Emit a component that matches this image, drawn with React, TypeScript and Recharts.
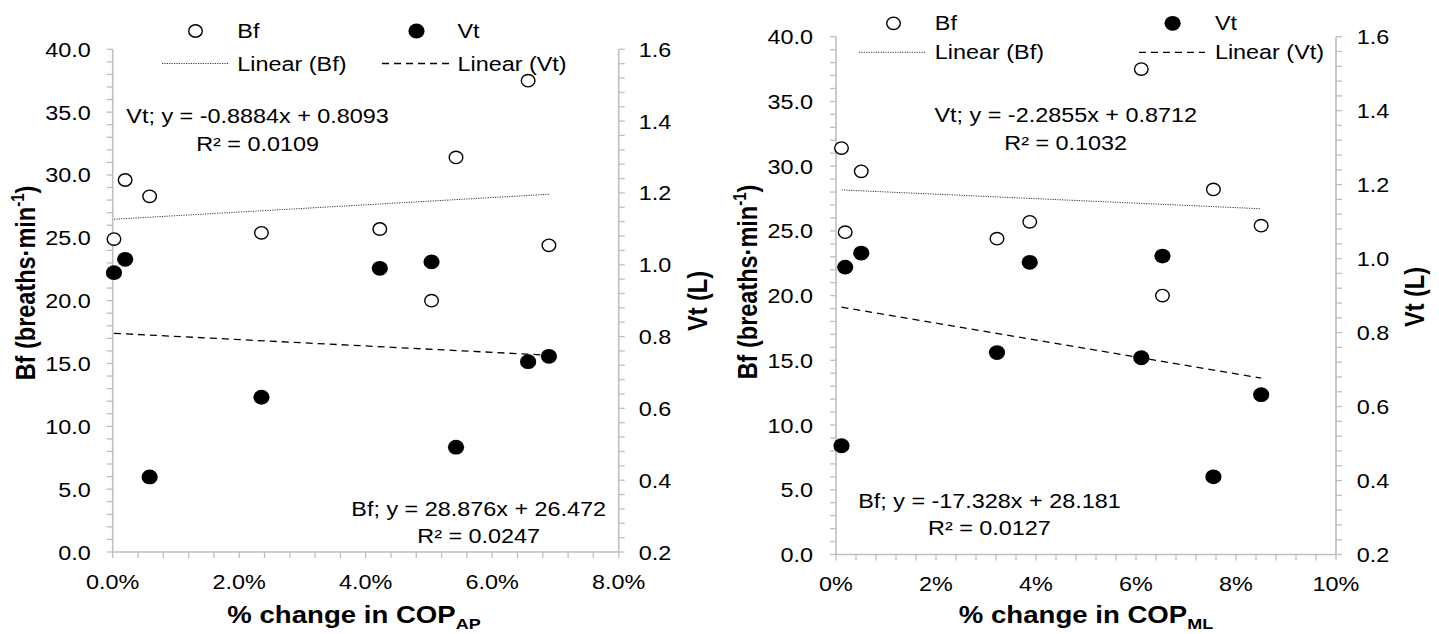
import React from 'react';
import { ScatterChart, Scatter, XAxis, YAxis, ReferenceLine } from 'recharts';

const FONT = '"Liberation Sans", Arial, Helvetica, sans-serif';
const SX = 1.2;
const AXIS = '#bfbfbf';

// ---- data: panel A (% change in COP AP) ----
const apX = [0.0002, 0.00197, 0.00584, 0.02352, 0.04223, 0.05041, 0.05428, 0.06568, 0.06897];
const apBf = [24.9, 29.6, 28.3, 25.4, 25.7, 20.0, 31.4, 37.5, 24.4];
const apVt = [0.978, 1.015, 0.409, 0.631, 0.99, 1.008, 0.492, 0.73, 0.745];
const apBfFit = [28.876, 26.472];
const apVtFit = [-0.8884, 0.8093];
const apBfEq = ['Bf; y = 28.876x + 26.472', 'R² = 0.0247'];
const apVtEq = ['Vt; y = -0.8884x + 0.8093', 'R² = 0.0109'];

// ---- data: panel B (% change in COP ML) ----
const mlX = [0.0011, 0.00184, 0.00505, 0.0322, 0.03875, 0.06106, 0.06529, 0.07548, 0.08503];
const mlBf = [31.4, 24.9, 29.6, 24.4, 25.7, 37.5, 20.0, 28.2, 25.4];
const mlVt = [0.494, 0.977, 1.015, 0.746, 0.99, 0.732, 1.007, 0.41, 0.632];
const mlBfFit = [-17.328, 28.181];
const mlVtFit = [-2.2855, 0.8712];
const mlBfEq = ['Bf; y = -17.328x + 28.181', 'R² = 0.0127'];
const mlVtEq = ['Vt; y = -2.2855x + 0.8712', 'R² = 0.1032'];

// ---- ticks ----
const bfMajor = [0, 5, 10, 15, 20, 25, 30, 35, 40];
const bfLabels = ['0.0', '5.0', '10.0', '15.0', '20.0', '25.0', '30.0', '35.0', '40.0'];
const vtMajor = [0.2, 0.4, 0.6, 0.8, 1.0, 1.2, 1.4, 1.6];
const vtLabels = ['0.2', '0.4', '0.6', '0.8', '1.0', '1.2', '1.4', '1.6'];
const apXMajor = [0, 0.02, 0.04, 0.06, 0.08];
const apXLabels = ['0.0%', '2.0%', '4.0%', '6.0%', '8.0%'];
const mlXMajor = [0, 0.02, 0.04, 0.06, 0.08, 0.1];
const mlXLabels = ['0%', '2%', '4%', '6%', '8%', '10%'];

const seriesNames = ['Bf', 'Vt'];
const trendNames = ['Linear (Bf)', 'Linear (Vt)'];

function withMinor(majors: number[]) {
  const out: number[] = [];
  for (let i = 0; i < majors.length - 1; i++) {
    for (let k = 0; k < 5; k++) out.push(Number((majors[i] + ((majors[i + 1] - majors[i]) * k) / 5).toFixed(6)));
  }
  out.push(majors[majors.length - 1]);
  return out;
}

function SText(props: any) {
  const { x, y, children, anchor = 'start', size = 19.5, weight = 'normal', rotate = 0, dy = 0 } = props;
  const tf = rotate
    ? `translate(${x},${y}) rotate(${rotate}) scale(1,${SX})`
    : `translate(${x},${y}) scale(${SX},1)`;
  return (
    <text transform={tf} y={dy} textAnchor={anchor} fontSize={size} fontWeight={weight} fontFamily={FONT} fill="#000">
      {children}
    </text>
  );
}

function makeYTick(majors: number[], labels: string[], anchor: string) {
  return (props: any) => {
    const { x, y, payload } = props;
    const i = majors.findIndex((m) => Math.abs(m - payload.value) < 1e-6);
    if (i < 0) return <g />;
    return <SText x={x} y={y + 7.5} anchor={anchor}>{labels[i]}</SText>;
  };
}

function makeXTick(majors: number[], labels: string[]) {
  return (props: any) => {
    const { x, y, payload } = props;
    const i = majors.findIndex((m) => Math.abs(m - payload.value) < 1e-6);
    if (i < 0) return <g />;
    return <SText x={x} y={y + 28.5} anchor="middle">{labels[i]}</SText>;
  };
}

const OpenMarker = (p: any) => (
  <ellipse cx={p.cx} cy={p.cy} rx={6.8} ry={6.2} fill="#fff" stroke="#000" strokeWidth={1.4} />
);
const FilledMarker = (p: any) => (
  <ellipse cx={p.cx} cy={p.cy} rx={8.1} ry={7.4} fill="#000" />
);

function Panel(props: any) {
  const c = props.cfg;
  const bfData = c.x.map((x: number, i: number) => ({ x, y: c.bf[i] }));
  const vtData = c.x.map((x: number, i: number) => ({ x, y: c.vt[i] }));
  const xmin = Math.min(...c.x);
  const xmax = Math.max(...c.x);
  const fit = (f: number[], x: number) => f[0] * x + f[1];
  const L = c.legend;
  return (
    <div style={{ position: 'absolute', left: c.left, top: 0, width: c.width, height: 634 }}>
      <ScatterChart width={c.width} height={634} margin={c.margin}>
        <XAxis
          type="number"
          dataKey="x"
          domain={c.xDomain}
          ticks={withMinor(c.xMajor)}
          interval={0}
          height={40}
          tickSize={6}
          axisLine={{ stroke: AXIS, strokeWidth: 1.6 }}
          tickLine={{ stroke: AXIS, strokeWidth: 1.3 }}
          tick={makeXTick(c.xMajor, c.xLabels)}
        />
        <YAxis
          yAxisId="bf"
          orientation="left"
          type="number"
          dataKey="y"
          domain={[0, 40]}
          ticks={withMinor(bfMajor)}
          interval={0}
          width={60}
          tickSize={6}
          tickMargin={c.leftTickMargin}
          axisLine={{ stroke: AXIS, strokeWidth: 1.6 }}
          tickLine={{ stroke: AXIS, strokeWidth: 1.3 }}
          tick={makeYTick(bfMajor, bfLabels, 'end')}
        />
        <YAxis
          yAxisId="vt"
          orientation="right"
          type="number"
          dataKey="y"
          domain={[0.2, 1.6]}
          ticks={withMinor(vtMajor)}
          interval={0}
          width={60}
          tickSize={6}
          tickMargin={c.rightTickMargin}
          axisLine={{ stroke: AXIS, strokeWidth: 1.6 }}
          tickLine={{ stroke: AXIS, strokeWidth: 1.3 }}
          tick={makeYTick(vtMajor, vtLabels, 'start')}
        />
        <ReferenceLine
          yAxisId="bf"
          segment={[{ x: xmin, y: fit(c.bfFit, xmin) }, { x: xmax, y: fit(c.bfFit, xmax) }]}
          stroke="#3a3a3a"
          strokeWidth={1}
          strokeDasharray="1.2 1.2"
          ifOverflow="visible"
        />
        <ReferenceLine
          yAxisId="vt"
          segment={[{ x: xmin, y: fit(c.vtFit, xmin) }, { x: xmax, y: fit(c.vtFit, xmax) }]}
          stroke="#000"
          strokeWidth={1.3}
          strokeDasharray="7 5"
          ifOverflow="visible"
        />
        <Scatter name={seriesNames[0]} yAxisId="bf" data={bfData} shape={OpenMarker} isAnimationActive={false} />
        <Scatter name={seriesNames[1]} yAxisId="vt" data={vtData} shape={FilledMarker} isAnimationActive={false} />
      </ScatterChart>
      <svg width={c.width} height={634} style={{ position: 'absolute', left: 0, top: 0, pointerEvents: 'none' }}>
        {/* legend */}
        <ellipse cx={L.m1} cy={L.r1} rx={6.8} ry={6.2} fill="#fff" stroke="#000" strokeWidth={1.4} />
        <SText x={L.t1} y={L.r1 + 7}>{seriesNames[0]}</SText>
        <ellipse cx={L.m2} cy={L.r1} rx={8.1} ry={7.4} fill="#000" />
        <SText x={L.t2} y={L.r1 + 7}>{seriesNames[1]}</SText>
        <line x1={L.l1[0]} x2={L.l1[1]} y1={L.r2} y2={L.r2} stroke="#3a3a3a" strokeWidth={1} strokeDasharray="1.2 1.2" />
        <SText x={L.t1} y={L.r2 + 7}>{trendNames[0]}</SText>
        <line x1={L.l2[0]} x2={L.l2[1]} y1={L.r2} y2={L.r2} stroke="#000" strokeWidth={1.3} strokeDasharray="7 5" />
        <SText x={L.t2} y={L.r2 + 7}>{trendNames[1]}</SText>
        {/* equations */}
        <SText x={c.vtEqPos[0]} y={c.vtEqPos[1]} anchor="middle">{c.vtEq[0]}</SText>
        <SText x={c.vtEqPos[0]} y={c.vtEqPos[1] + 28} anchor="middle">{c.vtEq[1]}</SText>
        <SText x={c.bfEqPos[0]} y={c.bfEqPos[1]} anchor="middle">{c.bfEq[0]}</SText>
        <SText x={c.bfEqPos[0]} y={c.bfEqPos[1] + 27} anchor="middle">{c.bfEq[1]}</SText>
        {/* axis titles */}
        <SText x={c.bfTitle[0]} y={c.bfTitle[1]} rotate={-90} dy={8} anchor="middle" size={23.5} weight="bold">
          Bf (breaths·min<tspan fontSize={15} dy={-9}>-1</tspan><tspan dy={9}>)</tspan>
        </SText>
        <SText x={c.vtTitle[0]} y={c.vtTitle[1]} rotate={-90} dy={8} anchor="middle" size={23.5} weight="bold">
          Vt (L)
        </SText>
        <SText x={c.xTitle[0]} y={c.xTitle[1]} anchor="middle" size={23} weight="bold">
          % change in COP<tspan fontSize={15} dy={6}>{c.sub}</tspan>
        </SText>
      </svg>
    </div>
  );
}

const panelA = {
  left: 0,
  width: 719,
  margin: { top: 49.3, right: 40.3, bottom: 42, left: 52.7 },
  x: apX, bf: apBf, vt: apVt,
  bfFit: apBfFit, vtFit: apVtFit,
  bfEq: apBfEq, vtEq: apVtEq,
  xDomain: [0, 0.08], xMajor: apXMajor, xLabels: apXLabels,
  leftTickMargin: 16, rightTickMargin: 14,
  legend: { r1: 31, r2: 63.5, m1: 195.5, t1: 237.3, m2: 416.5, t2: 457.5, l1: [162, 229], l2: [382, 449] },
  vtEqPos: [257.6, 122.7],
  bfEqPos: [478.7, 516],
  bfTitle: [25, 283],
  vtTitle: [697, 301],
  xTitle: [354, 622.5],
  sub: 'AP',
};

const panelB = {
  left: 719,
  width: 720,
  margin: { top: 36.7, right: 43, bottom: 39.5, left: 57 },
  x: mlX, bf: mlBf, vt: mlVt,
  bfFit: mlBfFit, vtFit: mlVtFit,
  bfEq: mlBfEq, vtEq: mlVtEq,
  xDomain: [0, 0.1], xMajor: mlXMajor, xLabels: mlXLabels,
  leftTickMargin: 17, rightTickMargin: 14.7,
  legend: { r1: 23.3, r2: 52.3, m1: 174.5, t1: 215.8, m2: 453.6, t2: 495.9, l1: [140, 206.6], l2: [420, 486] },
  vtEqPos: [346.7, 121.5],
  bfEqPos: [270.4, 508.3],
  bfTitle: [28, 282],
  vtTitle: [695, 297],
  xTitle: [367, 622.5],
  sub: 'ML',
};

export default function App() {
  return (
    <div style={{ position: 'absolute', left: 0, top: 0, width: 1439, height: 634, background: '#fff', overflow: 'hidden' }}>
      <Panel cfg={panelA} />
      <Panel cfg={panelB} />
    </div>
  );
}
